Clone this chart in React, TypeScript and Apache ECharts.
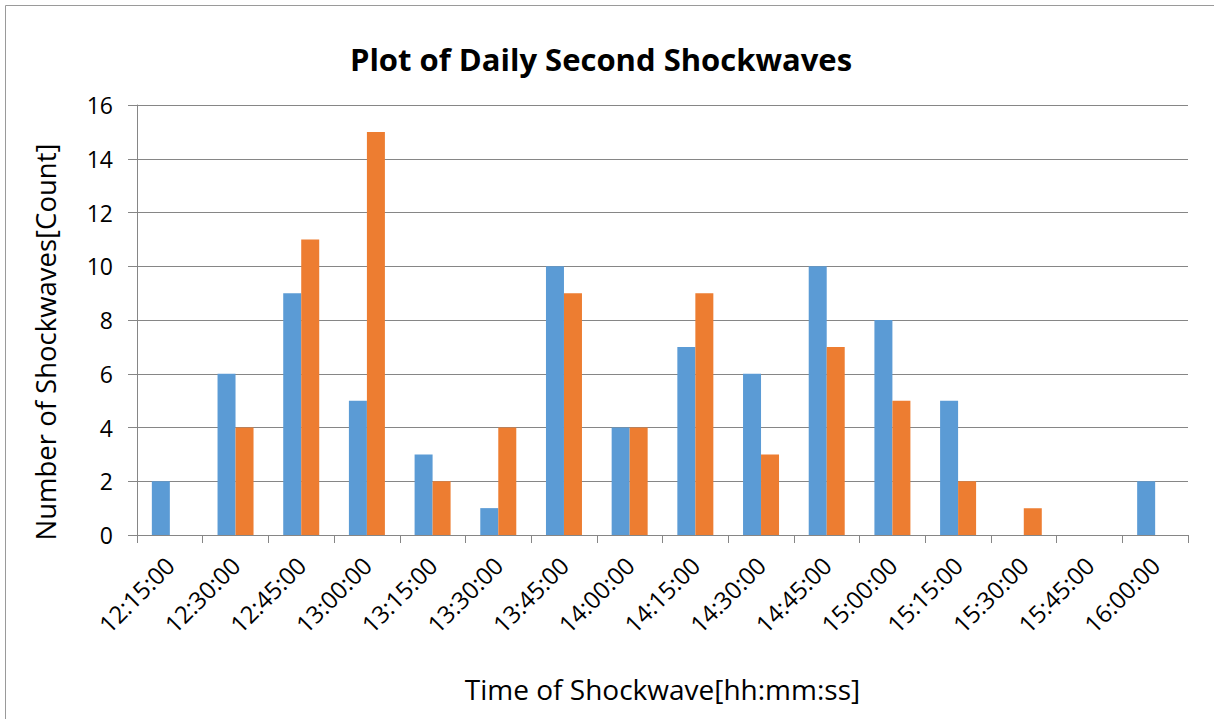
import React, { useEffect, useRef } from "react";
import * as echarts from "echarts";

const categories = [
  "12:15:00", "12:30:00", "12:45:00", "13:00:00", "13:15:00", "13:30:00",
  "13:45:00", "14:00:00", "14:15:00", "14:30:00", "14:45:00", "15:00:00",
  "15:15:00", "15:30:00", "15:45:00", "16:00:00",
];
const seriesA = [2, 6, 9, 5, 3, 1, 10, 4, 7, 6, 10, 8, 5, 0, 0, 2];
const seriesB = [0, 4, 11, 15, 2, 4, 9, 4, 9, 3, 7, 5, 2, 1, 0, 0];

const FONT = "'Open Sans', 'Noto Sans', sans-serif";

export default function App() {
  const ref = useRef<HTMLDivElement>(null);
  useEffect(() => {
    document.body.style.margin = "0";
    if (!ref.current) return;
    const chart = echarts.init(ref.current, null, { renderer: "svg" });
    chart.setOption({
      animation: false,
      backgroundColor: "#ffffff",
      title: {
        text: "Plot of Daily Second Shockwaves",
        left: 596,
        top: 38,
        textAlign: "center",
        textStyle: { fontFamily: FONT, fontWeight: "bold", fontSize: 31, color: "#000" },
      },
      graphic: [
        {
          type: "rect",
          shape: { x: 5.5, y: 5.5, width: 1300, height: 800 },
          style: { fill: "none", stroke: "#9a9a9a", lineWidth: 1 },
          silent: true,
        },
      ],
      grid: { left: 137, right: 26, top: 105, bottom: 184 },
      xAxis: {
        type: "category",
        data: categories,
        name: "Time of Shockwave[hh:mm:ss]",
        nameLocation: "middle",
        nameGap: 140,
        nameTextStyle: { fontFamily: FONT, fontSize: 28, color: "#000" },
        axisLine: { lineStyle: { color: "#868686", width: 1 } },
        axisTick: { show: true, length: 8, lineStyle: { color: "#868686" } },
        axisLabel: {
          rotate: 45,
          fontFamily: FONT,
          fontSize: 24,
          color: "#000",
          margin: 26,
          interval: 0,
        },
      },
      yAxis: {
        type: "value",
        min: 0,
        max: 16,
        interval: 2,
        name: "Number of Shockwaves[Count]",
        nameLocation: "middle",
        nameGap: 78,
        nameTextStyle: {
          fontFamily: FONT,
          fontSize: 27.5,
          color: "#000",
          padding: [0, 44, 0, 0],
        },
        axisLine: { show: true, lineStyle: { color: "#868686", width: 1 } },
        axisTick: { show: true, length: 9, lineStyle: { color: "#868686" } },
        axisLabel: { fontFamily: FONT, fontSize: 23, color: "#000", margin: 24 },
        splitLine: { show: true, lineStyle: { color: "#868686", width: 1 } },
      },
      series: [
        {
          name: "A",
          type: "bar",
          data: seriesA,
          barWidth: 18,
          barGap: "0%",
          itemStyle: { color: "#5B9BD5" },
        },
        {
          name: "B",
          type: "bar",
          data: seriesB,
          barWidth: 18,
          barGap: "0%",
          itemStyle: { color: "#ED7D31" },
        },
      ],
    });
    return () => chart.dispose();
  }, []);
  return <div ref={ref} style={{ width: 1214, height: 719 }} />;
}
